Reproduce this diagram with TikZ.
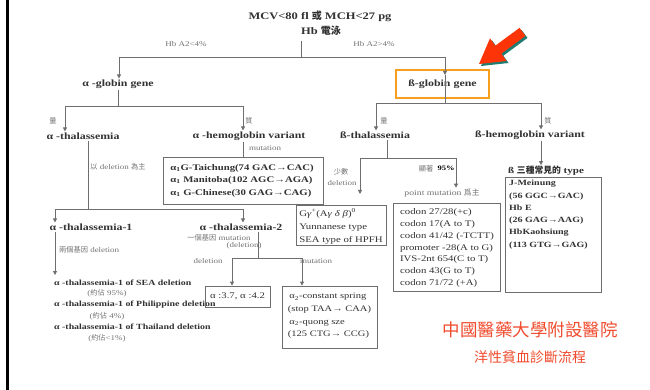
\documentclass[tikz,border=0pt]{standalone}
\usepackage{fontspec}
\setmainfont{Liberation Serif}[FakeStretch=1.25]
\newfontfamily\cjk{Noto Sans CJK TC}
\usetikzlibrary{arrows.meta}
\definecolor{lncol}{RGB}{110,110,110}
\definecolor{hdcol}{RGB}{50,50,50}
\definecolor{lbcol}{RGB}{115,115,115}
\definecolor{orbox}{RGB}{247,160,30}
\definecolor{redtxt}{RGB}{240,75,45}
\definecolor{redarr}{RGB}{252,52,8}
\definecolor{shadowc}{RGB}{30,125,115}
\begin{document}
\begin{tikzpicture}[x=1pt,y=-1pt,
  ln/.style={draw=lncol, line width=0.8pt},
  arr/.style={ln, -{Triangle[length=4pt,width=4pt]}},
  ttl/.style={font=\fontsize{10}{13}\selectfont\bfseries, text=hdcol, inner sep=1pt},
  hd/.style={font=\fontsize{9.5}{11}\selectfont\bfseries, text=hdcol, inner sep=1pt},
  lab/.style={font=\fontsize{7.2}{8}\selectfont, text=lbcol, inner sep=1pt},
  lst/.style={font=\fontsize{7.9}{9}\selectfont\bfseries, text=hdcol, inner sep=1pt, anchor=west},
  lstp/.style={font=\fontsize{7.2}{9}\selectfont, text=lbcol, inner sep=1pt},
  boxframe/.style={draw=lncol, line width=0.8pt, inner sep=0pt},
  bxtext/.style={font=\fontsize{8.6}{12}\selectfont, text=hdcol, align=left, inner sep=0pt},
  bxbold/.style={font=\fontsize{8}{12.3}\selectfont\bfseries, text=hdcol, align=left, inner sep=0pt},
  redt/.style={text=redtxt, inner sep=0pt}
]
\useasboundingbox (0,0) rectangle (650,390);
\fill[white] (0,0) rectangle (650,390);
\fill[black] (6,0) rectangle (8.5,390);

% ---- top
\node[ttl] (t1) at (320,16) {MCV<80 fl {\cjk 或} MCH<27 pg};
\node[ttl] (t2) at (321,31) {Hb {\cjk 電泳}};
\coordinate (j0top) at (301,41);
\coordinate (j0) at (301,57);
\coordinate (jL) at (119,57);
\coordinate (jR) at (445,57);
\draw[ln] (j0top) -- (j0);
\draw[ln] (jL) -- (jR);
\node[lab] (hbl) at (186,44) {Hb A2<4\%};
\node[lab] (hbr) at (374,44) {Hb A2>4\%};

% ---- alpha gene
\node[hd] (agene) at (118,84) {α -globin gene};
\draw[arr] (jL) -- (jL |- agene.north);

% ---- beta gene
\node[hd, draw=orbox, line width=2pt, minimum width=93pt, minimum height=28pt] (bgene) at (442.5,84) {ß-globin gene};
\coordinate (bgtip) at (445,75);
\coordinate (bJ) at (445,103);
\draw[ln] (bgtip) -- (bJ);
\draw[arr] (jR) -- (bgtip);

% ---- beta branch
\coordinate (bL) at (376,103);
\coordinate (bR) at (541,103);
\draw[ln] (bL) -- (bR);
\node[hd] (bthal) at (375,135) {ß-thalassemia};
\node[hd] (bvar) at (530,135) {ß-hemoglobin variant};
\draw[arr] (bL) -- (bL |- bthal.north);
\draw[arr] (bR) -- (bR |- bvar.north);
\node[lab] (bq1) at (384,121) {\cjk 量};
\node[lab] (bq2) at (548,121) {\cjk 質};

% ---- alpha branch
\coordinate (aJ) at (118,106);
\coordinate (aL) at (65,106);
\coordinate (aR) at (243,106);
\draw[ln] (agene.south) -- (aJ);
\draw[ln] (aL) -- (aR);
\node[hd] (athal) at (83,136) {α -thalassemia};
\node[hd] (avar) at (249,136) {α -hemoglobin variant};
\draw[arr] (aL) -- (aL |- athal.north);
\draw[arr] (aR) -- (aR |- avar.north);
\node[lab] (aq1) at (53,121) {\cjk 量};
\node[lab] (aq2) at (249,121) {\cjk 質};

% ---- alpha variant box
\node[boxframe, minimum width=160pt, minimum height=47pt] (avbox) at (243,180.5) {};
\node[bxbold, font=\fontsize{8.6}{12.5}\selectfont\bfseries] (avtxt) at (242,180.5) {α\textsubscript{1}G-Taichung(74 GAC→CAC)\\α\textsubscript{1} Manitoba(102 AGC→AGA)\\α\textsubscript{1} G-Chinese(30 GAG→CAG)};
\draw[ln] (avar.south -| aR) -- (avbox.north -| aR);
\node[lab] (mut1) at (265,148) {mutation};

% ---- alpha thalassemia
\coordinate (atJ) at (88,209);
\coordinate (at1) at (55,209);
\coordinate (at2) at (243,209);
\draw[ln] (athal.south -| atJ) -- (atJ);
\draw[ln] (at1) -- (at2);
\node[lab] (delmain) at (118,167) {{\cjk 以} deletion {\cjk 為主}};
\node[hd] (at1n) at (91,227) {α -thalassemia-1};
\node[hd] (at2n) at (241,227) {α -thalassemia-2};
\draw[arr] (at1) -- (at1 |- at1n.north);
\draw[arr] (at2) -- (at2 |- at2n.north);

% alpha-thal-1 list
\node[lab, anchor=west] (twodel) at (58,250) {{\cjk 兩個基因} deletion};
\node[lst] (l1) at (53,283) {α -thalassemia-1 of SEA deletion};
\node[lstp] (l1p) at (107,293.5) {({\cjk 約佔} 95\%)};
\node[lst] (l2) at (53,305) {α -thalassemia-1 of Philippine deletion};
\node[lstp] (l2p) at (107,316) {({\cjk 約佔} 4\%)};
\node[lst] (l3) at (53,327) {α -thalassemia-1 of Thailand deletion};
\node[lstp] (l3p) at (107,338.5) {({\cjk 約佔}<1\%)};
\coordinate (at1v) at (55,275);
\draw[arr] (at1n.south -| at1) -- (at1v);

% alpha-thal-2
\coordinate (a2x) at (258,258);
\coordinate (a2L) at (232,258);
\coordinate (a2R) at (302,258);
\draw[ln] (at2n.south -| a2x) -- (a2x);
\draw[ln] (a2L) -- (a2R);
\node[lab] (onemut) at (219,238) {{\cjk 一個基因} mutation};
\node[lab] (onedel) at (244,246) {(deletion)};
\node[lab] (del2) at (208,261) {deletion};
\node[lab] (mut2) at (316,261) {mutation};
\node[boxframe, minimum width=65pt, minimum height=21pt, bxtext] (a37) at (237.5,296.5) {α :3.7, α :4.2};
\node[boxframe, minimum width=95pt, minimum height=62pt] (acs) at (329.5,317) {};
\node[bxtext, font=\fontsize{8.4}{12.6}\selectfont] (acst) at (329.5,316) {\,α\textsubscript{2}-constant spring\\(stop TAA→ CAA)\\\,α\textsubscript{2}-quong sze\\(125 CTG→ CCG)};
\draw[arr] (a2L) -- (a2L |- a37.north);
\draw[arr] (a2R) -- (a2R |- acs.north);

% ---- beta thalassemia
\coordinate (btJ) at (387,158);
\coordinate (btL) at (360,158);
\coordinate (btR) at (456,158);
\draw[ln] (bthal.south -| btJ) -- (btJ);
\draw[ln] (btL) -- (btR);
\node[lab] (few) at (341,172) {\cjk 少數};
\node[lab] (fewdel) at (342,183) {deletion};
\node[lab] (sig) at (426,169) {\cjk 顯著};
\node[inner sep=0pt, font=\fontsize{6.8}{8}\selectfont\bfseries] (p95) at (446,168) {95\%};
\node[lab, font=\fontsize{7.8}{9}\selectfont] (pm) at (442,193) {point mutation {\cjk 爲主}};
\coordinate (btLe) at (360,194);
\draw[arr] (btL) -- (btLe);
\draw[arr] (btR) -- (btR |- pm.north);
\node[boxframe, minimum width=90pt, minimum height=40pt] (gbox) at (341,225) {};
\node[bxtext, font=\fontsize{8.6}{13}\selectfont] (gtxt) at (341,226.5) {G\textit{γ}\textsuperscript{+}(A\textit{γ} \textit{δ} \textit{β})\textsuperscript{0}\\Yunnanese type\\SEA type of HPFH};
\node[boxframe, minimum width=107pt, minimum height=88pt] (pmbox) at (446.5,247) {};
\node[bxtext, font=\fontsize{8.6}{11.7}\selectfont] (pmtxt) at (447,248) {codon 27/28(+c)\\codon 17(A to T)\\codon 41/42 (-TCTT)\\promoter -28(A to G)\\IVS-2nt 654(C to T)\\codon 43(G to T)\\codon 71/72 (+A)};

% ---- beta variant
\node[hd, font=\fontsize{8.8}{10}\selectfont\bfseries] (b3) at (546,171) {ß {\cjk 三種常見的} type};
\draw[arr] (bvar.south -| bR) -- (b3.north -| bR);
\node[boxframe, minimum width=96pt, minimum height=115pt] (bvbox) at (553,234.5) {};
\node[bxbold, anchor=north west] (bvtxt) at (509,180) {J-Meinung\\(56 GGC→GAC)\\Hb E\\(26 GAG→AAG)\\HbKaohsiung\\(113 GTG→GAG)};

% ---- red text
\node[redt, font=\cjk\fontsize{17.5}{20}\selectfont] (hosp) at (530,330) {中國醫藥大學附設醫院};
\node[redt, font=\cjk\fontsize{14}{16}\selectfont] (flow) at (530,357) {洋性貧血診斷流程};

% ---- red arrow
\fill[shadowc] (481,66) -- (492,40.4) -- (497.3,47.7) -- (521.5,29.9) -- (527.5,37.9) -- (503.3,55.7) -- (508.6,63) -- cycle;
\fill[redarr] (479,64) -- (490,38.4) -- (495.3,45.7) -- (519.5,27.9) -- (525.5,35.9) -- (501.3,53.7) -- (506.6,61) -- cycle;
\end{tikzpicture}
\end{document}
